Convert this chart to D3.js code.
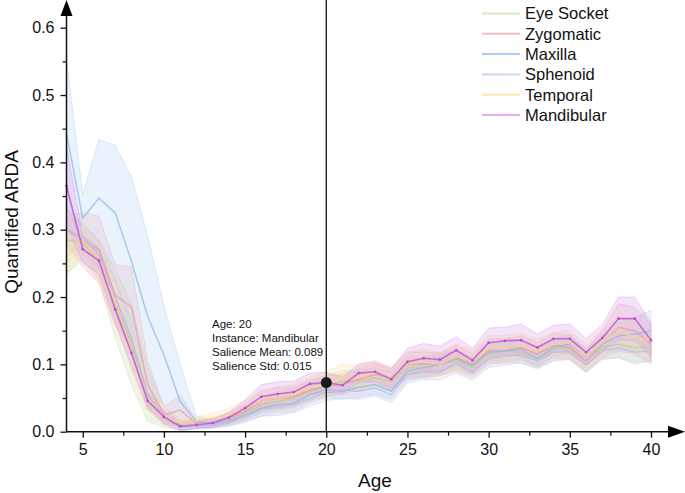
<!DOCTYPE html>
<html>
<head>
<meta charset="utf-8">
<script src="https://cdn.jsdelivr.net/npm/d3@7"></script>
<style>
  body { margin: 0; background: #fff; }
  svg text { font-family: Arial, "Liberation Sans", sans-serif; fill: #111; }
</style>
</head>
<body>
<svg id="chart" width="685" height="493"></svg>
<script>
// ages 4..40
var ages = d3.range(4, 41);
var seriesNames = ['Eye Socket', 'Zygomatic', 'Maxilla', 'Sphenoid', 'Temporal', 'Mandibular'];

var eyeMean = [0.285, 0.28, 0.255, 0.19, 0.13, 0.055, 0.022, 0.01, 0.01, 0.012, 0.018, 0.028, 0.04, 0.045, 0.05, 0.06, 0.068, 0.075, 0.075, 0.08, 0.075, 0.095, 0.095, 0.1, 0.105, 0.095, 0.115, 0.12, 0.118, 0.11, 0.122, 0.125, 0.105, 0.125, 0.13, 0.125, 0.125];
var eyeStd = [0.05, 0.025, 0.03, 0.05, 0.06, 0.04, 0.015, 0.008, 0.006, 0.006, 0.008, 0.01, 0.012, 0.014, 0.014, 0.014, 0.015, 0.016, 0.015, 0.015, 0.014, 0.016, 0.016, 0.016, 0.016, 0.015, 0.016, 0.016, 0.016, 0.015, 0.016, 0.016, 0.015, 0.016, 0.02, 0.025, 0.02];

var zygMean = [0.3, 0.285, 0.27, 0.203, 0.185, 0.07, 0.025, 0.032, 0.012, 0.014, 0.02, 0.03, 0.045, 0.05, 0.052, 0.062, 0.068, 0.07, 0.078, 0.085, 0.08, 0.1, 0.1, 0.1, 0.11, 0.1, 0.12, 0.12, 0.125, 0.115, 0.128, 0.125, 0.105, 0.13, 0.155, 0.15, 0.13];
var zygStd = [0.02, 0.04, 0.05, 0.045, 0.06, 0.035, 0.012, 0.022, 0.006, 0.006, 0.008, 0.012, 0.016, 0.016, 0.015, 0.015, 0.015, 0.015, 0.016, 0.016, 0.015, 0.018, 0.018, 0.017, 0.018, 0.016, 0.018, 0.018, 0.018, 0.017, 0.018, 0.018, 0.017, 0.02, 0.035, 0.035, 0.03];

var maxMean = [0.443, 0.317, 0.347, 0.325, 0.253, 0.171, 0.114, 0.045, 0.015, 0.012, 0.016, 0.025, 0.035, 0.04, 0.042, 0.055, 0.063, 0.06, 0.066, 0.07, 0.06, 0.09, 0.095, 0.1, 0.108, 0.098, 0.118, 0.12, 0.122, 0.108, 0.125, 0.13, 0.112, 0.13, 0.142, 0.145, 0.15];
var maxStd = [0.11, 0.035, 0.087, 0.1, 0.125, 0.12, 0.072, 0.055, 0.008, 0.006, 0.007, 0.01, 0.012, 0.012, 0.012, 0.012, 0.012, 0.012, 0.015, 0.014, 0.012, 0.014, 0.014, 0.012, 0.013, 0.012, 0.013, 0.013, 0.013, 0.012, 0.013, 0.014, 0.012, 0.014, 0.02, 0.025, 0.03];

var sphMean = [0.3, 0.29, 0.262, 0.2, 0.14, 0.055, 0.02, 0.007, 0.009, 0.01, 0.014, 0.022, 0.033, 0.036, 0.04, 0.05, 0.058, 0.062, 0.06, 0.065, 0.055, 0.085, 0.09, 0.09, 0.1, 0.088, 0.108, 0.112, 0.115, 0.105, 0.118, 0.12, 0.1, 0.12, 0.125, 0.118, 0.12];
var sphStd = [0.03, 0.02, 0.02, 0.025, 0.025, 0.015, 0.008, 0.005, 0.005, 0.005, 0.006, 0.008, 0.01, 0.012, 0.012, 0.012, 0.012, 0.012, 0.012, 0.012, 0.012, 0.013, 0.013, 0.013, 0.013, 0.012, 0.013, 0.013, 0.013, 0.012, 0.013, 0.013, 0.012, 0.013, 0.015, 0.015, 0.015];

var tmpMean = [0.26, 0.285, 0.255, 0.19, 0.12, 0.05, 0.02, 0.013, 0.016, 0.02, 0.026, 0.035, 0.045, 0.05, 0.055, 0.065, 0.072, 0.08, 0.08, 0.088, 0.08, 0.1, 0.105, 0.1, 0.112, 0.105, 0.125, 0.125, 0.128, 0.12, 0.13, 0.132, 0.112, 0.132, 0.15, 0.14, 0.135];
var tmpStd = [0.03, 0.02, 0.025, 0.03, 0.03, 0.02, 0.01, 0.006, 0.006, 0.007, 0.009, 0.012, 0.015, 0.016, 0.016, 0.016, 0.018, 0.02, 0.018, 0.018, 0.016, 0.018, 0.018, 0.017, 0.018, 0.017, 0.018, 0.018, 0.018, 0.017, 0.018, 0.018, 0.017, 0.018, 0.022, 0.022, 0.02];

var manMean = [0.365, 0.271, 0.254, 0.182, 0.117, 0.046, 0.022, 0.008, 0.01, 0.013, 0.021, 0.035, 0.052, 0.056, 0.059, 0.071, 0.073, 0.069, 0.087, 0.089, 0.078, 0.104, 0.109, 0.107, 0.121, 0.106, 0.132, 0.135, 0.136, 0.125, 0.138, 0.138, 0.118, 0.139, 0.168, 0.168, 0.136];
var manStd = [0.06, 0.02, 0.02, 0.02, 0.02, 0.012, 0.01, 0.006, 0.005, 0.006, 0.008, 0.012, 0.018, 0.018, 0.016, 0.016, 0.015, 0.012, 0.014, 0.015, 0.015, 0.02, 0.022, 0.02, 0.02, 0.018, 0.022, 0.02, 0.024, 0.02, 0.02, 0.022, 0.02, 0.02, 0.032, 0.032, 0.025];

var lineColors = ['#b9d28f', '#f19aa2', '#8fbbec', '#bcbce6', '#fbd488', '#c65ed8'];
var bandColors = ['#c9dcae', '#f2b0b6', '#b4cff0', '#c8c8ea', '#fbe0a8', '#d99ae8'];
var legendColors = ['#d6e6c2', '#f8bcc0', '#aecbf0', '#d6d6ef', '#fde7b4', '#eaa8f5'];

var xTicks = [5, 10, 15, 20, 25, 30, 35, 40];
var xMinor = [7.5, 12.5, 17.5, 22.5, 27.5, 32.5, 37.5];
var yTicks = [0, 0.1, 0.2, 0.3, 0.4, 0.5, 0.6];
var yMinor = [0.05, 0.15, 0.25, 0.35, 0.45, 0.55];

var hoverAge = 20;
var tipLines = ['Age: 20', 'Instance: Mandibular', 'Salience Mean: 0.089', 'Salience Std: 0.015'];

var means = [eyeMean, zygMean, maxMean, sphMean, tmpMean, manMean];
var stds = [eyeStd, zygStd, maxStd, sphStd, tmpStd, manStd];

var series = seriesNames.map(function(name, i) {
  return {
    name: name,
    values: ages.map(function(a, j) { return { age: a, mean: means[i][j], std: stds[i][j] }; })
  };
});

var svg = d3.select('#chart');
var x = d3.scaleLinear().domain([4, 40]).range([66.5, 651]);
var y = d3.scaleLinear().domain([0, 0.6]).range([431.7, 27.7]);

var area = d3.area()
    .x(function(d) { return x(d.age); })
    .y0(function(d) { return y(Math.max(0, d.mean - d.std)); })
    .y1(function(d) { return y(d.mean + d.std); });
var line = d3.line()
    .x(function(d) { return x(d.age); })
    .y(function(d) { return y(d.mean); });

var plot = svg.append('g');

plot.selectAll('.band')
    .data(series)
    .enter().append('path')
      .attr('class', 'band')
      .attr('d', function(d) { return area(d.values); })
      .attr('fill', function(d, i) { return bandColors[i]; })
      .attr('fill-opacity', 0.28)
      .attr('stroke', function(d, i) { return bandColors[i]; })
      .attr('stroke-opacity', 0.6)
      .attr('stroke-width', 0.7);

plot.selectAll('.line')
    .data(series)
    .enter().append('path')
      .attr('class', 'line')
      .attr('d', function(d) { return line(d.values); })
      .attr('fill', 'none')
      .attr('stroke', function(d, i) { return lineColors[i]; })
      .attr('stroke-opacity', function(d, i) { return i === 5 ? 0.9 : 0.75; })
      .attr('stroke-width', function(d, i) { return i === 5 ? 1.6 : 1.5; });

plot.selectAll('.pt')
    .data(series[5].values)
    .enter().append('circle')
      .attr('class', 'pt')
      .attr('cx', function(d) { return x(d.age); })
      .attr('cy', function(d) { return y(d.mean); })
      .attr('r', 1.3)
      .attr('fill', '#b84ccc');

// axes
var xAxis = svg.append('g')
    .attr('transform', 'translate(0,' + y(0) + ')')
    .call(d3.axisBottom(x).tickValues(xTicks).tickSize(6).tickSizeOuter(0).tickPadding(6));
xAxis.select('.domain').remove();
xAxis.selectAll('text').attr('font-size', 16).attr('fill', '#111');
xAxis.selectAll('line').attr('stroke', '#111').attr('stroke-width', 1.3);

var xAxisMinor = svg.append('g')
    .attr('transform', 'translate(0,' + y(0) + ')')
    .call(d3.axisBottom(x).tickValues(xMinor).tickSize(4).tickFormat(''));
xAxisMinor.select('.domain').remove();
xAxisMinor.selectAll('line').attr('stroke', '#111').attr('stroke-width', 1.2);

var yAxis = svg.append('g')
    .attr('transform', 'translate(' + x(4) + ',0)')
    .call(d3.axisLeft(y).tickValues(yTicks).tickSize(6).tickSizeOuter(0).tickPadding(6)
      .tickFormat(d3.format('.1f')));
yAxis.select('.domain').remove();
yAxis.selectAll('text').attr('font-size', 16).attr('fill', '#111');
yAxis.selectAll('line').attr('stroke', '#111').attr('stroke-width', 1.3);

var yAxisMinor = svg.append('g')
    .attr('transform', 'translate(' + x(4) + ',0)')
    .call(d3.axisLeft(y).tickValues(yMinor).tickSize(4).tickFormat(''));
yAxisMinor.select('.domain').remove();
yAxisMinor.selectAll('line').attr('stroke', '#111').attr('stroke-width', 1.2);

// axis lines with arrows
svg.append('line')
    .attr('x1', x(4)).attr('x2', 672)
    .attr('y1', y(0)).attr('y2', y(0))
    .attr('stroke', '#111').attr('stroke-width', 1.5);
svg.append('line')
    .attr('x1', x(4)).attr('x2', x(4))
    .attr('y1', y(0)).attr('y2', 14)
    .attr('stroke', '#111').attr('stroke-width', 1.5);
svg.append('path')
    .attr('d', 'M685,' + y(0) + 'L668,' + (y(0) - 6) + 'L668,' + (y(0) + 6) + 'Z')
    .attr('fill', '#000');
svg.append('path')
    .attr('d', 'M' + x(4) + ',0L' + (x(4) - 6) + ',16L' + (x(4) + 6) + ',16Z')
    .attr('fill', '#000');

// axis titles
svg.append('text')
    .attr('transform', 'translate(18,' + 222 + ') rotate(-90)')
    .attr('text-anchor', 'middle')
    .attr('font-size', 19)
    .text('Quantified ARDA');
svg.append('text')
    .attr('x', 375)
    .attr('y', 487)
    .attr('text-anchor', 'middle')
    .attr('font-size', 19)
    .text('Age');

// hover guide
var hov = series[5].values.filter(function(d) { return d.age === hoverAge; })[0];
svg.append('line')
    .attr('x1', x(hoverAge)).attr('x2', x(hoverAge))
    .attr('y1', 0).attr('y2', y(0))
    .attr('stroke', '#111').attr('stroke-width', 1.3);
svg.append('circle')
    .attr('cx', x(hoverAge)).attr('cy', y(hov.mean))
    .attr('r', 5.5)
    .attr('fill', '#1a1a1a');

svg.append('g').selectAll('text')
    .data(tipLines)
    .enter().append('text')
      .attr('x', 212)
      .attr('y', function(d, i) { return 328 + i * 14; })
      .attr('font-size', 11.5)
      .text(function(d) { return d; });

// legend
var legend = svg.append('g').selectAll('g')
    .data(seriesNames)
    .enter().append('g')
      .attr('transform', function(d, i) { return 'translate(482,' + (13.5 + i * 20.3) + ')'; });
legend.append('line')
    .attr('x1', 0).attr('x2', 38)
    .attr('stroke', function(d, i) { return legendColors[i]; })
    .attr('stroke-width', 2);
legend.append('text')
    .attr('x', 43)
    .attr('dy', '0.36em')
    .attr('font-size', 16.5)
    .text(function(d) { return d; });
</script>
</body>
</html>
